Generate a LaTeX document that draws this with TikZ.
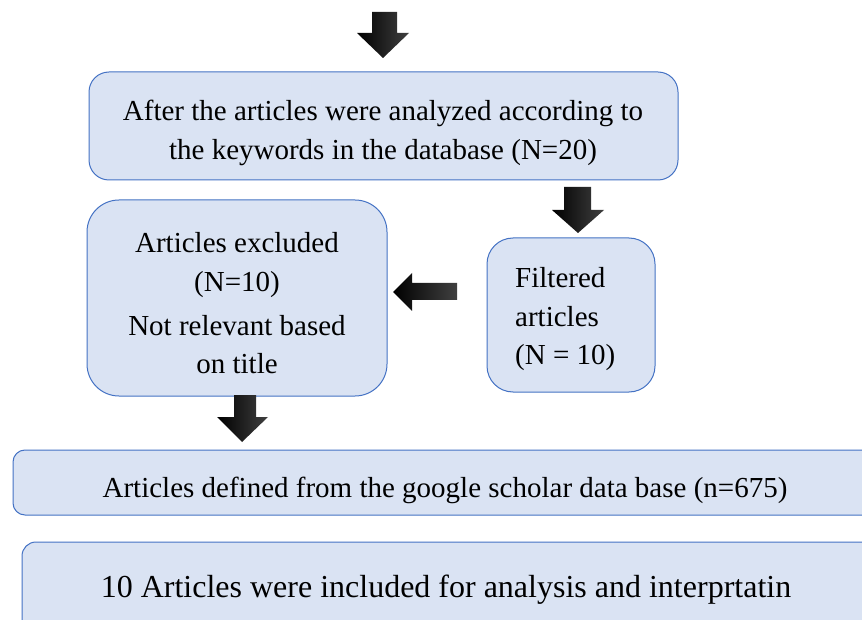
\documentclass[tikz,border=0pt]{standalone}
\usepackage{fontspec}
\setmainfont{Liberation Serif}
\definecolor{boxfill}{HTML}{DAE3F3}
\definecolor{boxline}{HTML}{4472C4}
\begin{document}
\begin{tikzpicture}[x=1pt,y=-1pt,
  box/.style={draw=boxline, fill=boxfill, line width=1pt, rounded corners=#1},
  blk/.style={left color=black, right color=black!75, draw=none},
  txt/.style={font=\fontsize{29}{39}\selectfont, align=center, inner sep=0pt}]
\useasboundingbox (0,0) rectangle (862,620);
% boxes
\draw[box=20pt] (89,72) rectangle (678,180);
\node[txt] (b1) at (383,132.5) {After the articles were analyzed according to\\the keywords in the database (N=20)};
\draw[box=32pt] (87,200) rectangle (387,396);
\node[txt, font=\fontsize{29}{38.5}\selectfont] (b2) at (237,303.5) {Articles excluded\\(N=10)\\[5.5pt]Not relevant based\\on title};
\draw[box=26pt] (487,238) rectangle (655,392);
\node[txt, align=left, anchor=west, font=\fontsize{29}{38.5}\selectfont] (b3) at (515,319.5) {Filtered\\articles\\(N = 10)};
\draw[box=12pt] (13,450) rectangle (880,515);
\node[txt] (b4) at (445,490) {Articles defined from the google scholar data base (n=675)};
\draw[box=14pt] (22,542) rectangle (880,650);
\node[txt, font=\fontsize{32}{38}\selectfont] (b5) at (446,589.5) {10 Articles were included for analysis and interprtatin};
% block arrows
\shade[blk] (372,12) -- (397,12) -- (397,33) -- (409,33) -- (383,58) -- (357,33) -- (372,33) -- cycle;
\shade[blk] (564,187) -- (591,187) -- (591,210) -- (604,210) -- (578,233) -- (552,210) -- (564,210) -- cycle;
\shade[blk] (234,395) -- (256,395) -- (256,417) -- (268,417) -- (242,442) -- (217,417) -- (234,417) -- cycle;
\shade[blk] (457,283) -- (457,300) -- (412,300) -- (412,311) -- (393,292) -- (412,273) -- (412,283) -- cycle;
\end{tikzpicture}
\end{document}
